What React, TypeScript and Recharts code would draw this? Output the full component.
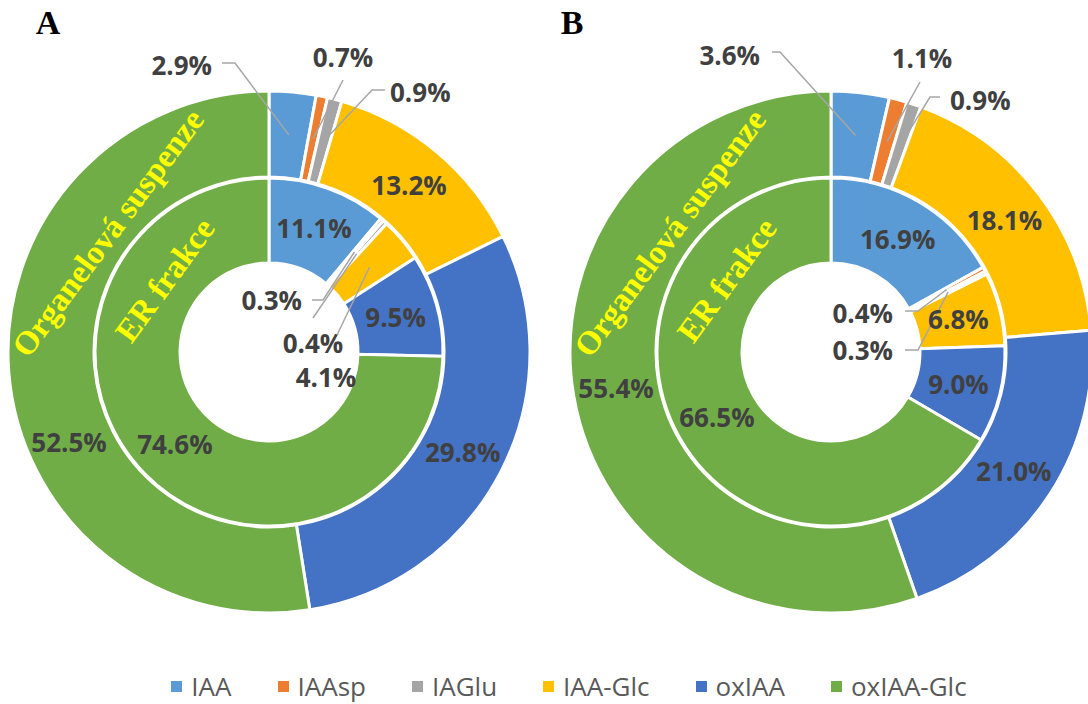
import { Cell, Legend, Pie, PieChart } from "recharts";

const categories = ["IAA", "IAAsp", "IAGlu", "IAA-Glc", "oxIAA", "oxIAA-Glc"];
const colors = ["#5B9BD5", "#ED7D31", "#A5A5A5", "#FFC000", "#4472C4", "#70AD47"];

// Organelová suspenze (outer ring) and ER frakce (inner ring), % of total
const outerA = [2.9, 0.7, 0.9, 13.2, 29.8, 52.5];
const innerA = [11.1, 0.3, 0.4, 4.1, 9.5, 74.6];
const outerB = [3.6, 1.1, 0.9, 18.1, 21.0, 55.4];
const innerB = [16.9, 0.4, 0.3, 6.8, 9.0, 66.5];

const toRows = (vals: number[]) => categories.map((name, i) => ({ name, value: vals[i] }));

const RAD = Math.PI / 180;
const labelFont = "'Open Sans', 'Noto Sans', sans-serif";
const serif = "'Liberation Serif', 'Times New Roman', serif";

type Callout = {
  tx: number;
  ty: number;
  anchor: "start" | "middle" | "end";
  path?: [number, number][];
};

// label placement for slices too thin to hold their own text (offsets from the ring centre)
const calloutsOuterA: Record<string, Callout> = {
  IAA: { tx: -57, ty: -287, anchor: "end", path: [[-47, -289], [-34, -289]] },
  IAAsp: { tx: 74, ty: -295, anchor: "middle", path: [[74, -272]] },
  IAGlu: { tx: 121, ty: -260, anchor: "start", path: [[116, -262], [103, -262]] },
  "oxIAA-Glc": { tx: -200, ty: 90, anchor: "middle" },
};
const calloutsInnerA: Record<string, Callout> = {
  IAAsp: { tx: 33, ty: -52, anchor: "end", path: [[43, -52], [54, -52]] },
  IAGlu: { tx: 44, ty: -9, anchor: "middle", path: [[44, -34]] },
  "IAA-Glc": { tx: 57, ty: 25, anchor: "middle", path: [[68, -17]] },
};
const calloutsOuterB: Record<string, Callout> = {
  IAA: { tx: -71, ty: -297, anchor: "end", path: [[-59, -300], [-51, -300]] },
  IAAsp: { tx: 91, ty: -294, anchor: "middle", path: [[89, -270]] },
  IAGlu: { tx: 119, ty: -252, anchor: "start", path: [[109, -255], [99, -255]] },
};
const calloutsInnerB: Record<string, Callout> = {
  IAAsp: { tx: 62, ty: -39, anchor: "end", path: [[74, -41], [87, -41]] },
  IAGlu: { tx: 62, ty: -2, anchor: "end", path: [[74, -2], [87, -2]] },
};

const makeLabel = (callouts: Record<string, Callout>) => (props: any) => {
  const { cx, cy, midAngle, innerRadius, outerRadius, value, index } = props;
  const name = categories[index];
  const r = (innerRadius + outerRadius) / 2;
  const mx = cx + r * Math.cos(-midAngle * RAD);
  const my = cy + r * Math.sin(-midAngle * RAD);
  const text = `${Number(value).toFixed(1)}%`;
  const c = callouts[name];
  const style = { fontFamily: labelFont, fontWeight: 700, fontSize: 26 };
  if (!c) {
    return (
      <text x={mx} y={my} textAnchor="middle" dominantBaseline="central" fill="#404040" style={style}>
        {text}
      </text>
    );
  }
  const pts = (c.path || []).map(([x, y]) => `${cx + x},${cy + y}`);
  return (
    <g>
      {c.path && (
        <polyline
          points={[...pts, `${mx},${my}`].join(" ")}
          fill="none"
          stroke="#A6A6A6"
          strokeWidth={1.5}
        />
      )}
      <text
        x={cx + c.tx}
        y={cy + c.ty}
        textAnchor={c.anchor}
        dominantBaseline="central"
        fill="#404040"
        style={style}
      >
        {text}
      </text>
    </g>
  );
};

const LegendContent = () => (
  <div
    style={{
      display: "flex",
      justifyContent: "center",
      gap: 46,
      paddingLeft: 50,
      fontFamily: labelFont,
      fontSize: 26,
      color: "#595959",
    }}
  >
    {categories.map((c, i) => (
      <div key={c} style={{ display: "flex", alignItems: "center", gap: 9 }}>
        <span style={{ width: 11, height: 11, background: colors[i], display: "inline-block" }} />
        <span>{c}</span>
      </div>
    ))}
  </div>
);

const rings = [
  { id: "A", cx: 269, cy: 352 },
  { id: "B", cx: 831, cy: 352 },
];

export default function App() {
  return (
    <div style={{ position: "absolute", left: 0, top: 0, width: 1088, height: 704, background: "#fff" }}>
      <PieChart width={1088} height={704} margin={{ top: 0, right: 0, bottom: 0, left: 0 }}>
        {[
          { data: outerA, c: rings[0], outer: true, callouts: calloutsOuterA },
          { data: innerA, c: rings[0], outer: false, callouts: calloutsInnerA },
          { data: outerB, c: rings[1], outer: true, callouts: calloutsOuterB },
          { data: innerB, c: rings[1], outer: false, callouts: calloutsInnerB },
        ].map((p, k) => (
          <Pie
            key={k}
            data={toRows(p.data)}
            dataKey="value"
            nameKey="name"
            cx={p.c.cx}
            cy={p.c.cy}
            innerRadius={p.outer ? 175 : 89}
            outerRadius={p.outer ? 261 : 174}
            startAngle={90}
            endAngle={-270}
            stroke="#fff"
            strokeWidth={3}
            label={makeLabel(p.callouts)}
            labelLine={false}
            isAnimationActive={false}
          >
            {categories.map((c, i) => (
              <Cell key={c} fill={colors[i]} />
            ))}
          </Pie>
        ))}
        <Legend
          content={<LegendContent />}
          wrapperStyle={{ position: "absolute", left: 0, top: 668, width: 1088 }}
        />
      </PieChart>
      <svg
        width={1088}
        height={704}
        style={{ position: "absolute", left: 0, top: 0, pointerEvents: "none" }}
      >
        {rings.map((r) => (
          <g key={r.id}>
            <text
              x={r.id === "A" ? 48 : 572}
              y={34}
              textAnchor="middle"
              style={{ fontFamily: serif, fontWeight: 700, fontSize: 34 }}
              fill="#000"
            >
              {r.id}
            </text>
            <text
              x={r.cx - 161}
              y={r.cy - 119}
              textAnchor="middle"
              dominantBaseline="central"
              transform={`rotate(-53.5 ${r.cx - 161} ${r.cy - 119})`}
              style={{ fontFamily: serif, fontWeight: 700, fontSize: 33 }}
              fill="#FFFF00"
            >
              Organelová suspenze
            </text>
            <text
              x={r.cx - 104}
              y={r.cy - 72}
              textAnchor="middle"
              dominantBaseline="central"
              transform={`rotate(-54 ${r.cx - 104} ${r.cy - 72})`}
              style={{ fontFamily: serif, fontWeight: 700, fontSize: 33 }}
              fill="#FFFF00"
            >
              ER frakce
            </text>
          </g>
        ))}
      </svg>
    </div>
  );
}
